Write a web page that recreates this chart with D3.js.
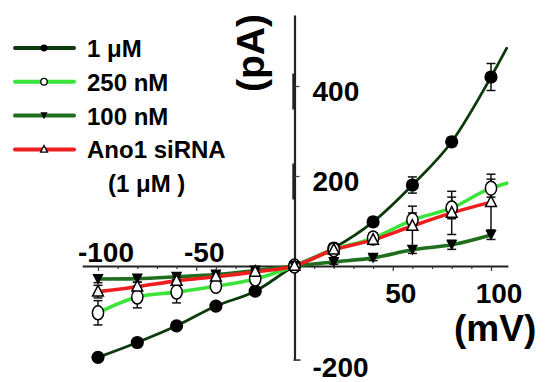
<!DOCTYPE html>
<html>
<head>
<meta charset="utf-8">
<script src="https://cdn.jsdelivr.net/npm/d3@7"></script>
<style>
  html, body { margin: 0; padding: 0; background: #fff; }
  svg { display: block; }
  text { font-family: "Liberation Sans", Arial, sans-serif; font-weight: bold; fill: #000; }
</style>
</head>
<body>
<svg id="chart" width="548" height="382"></svg>
<script>
// ---- data (voltage in mV, current in pA) ----
const voltages = [-100, -80, -60, -40, -20, 0, 20, 40, 60, 80, 100];

const series1uM   = [-203, -170, -133, -89, -56, 0, 40, 98, 180, 276, 420];
const err1uM      = [8, 6, 6, 6, 4, 0, 8, 10, 18, 10, 30];

const series250nM = [-104, -69, -58, -45, -29, 0, 36, 62, 102, 129, 173];
const err250nM    = [27, 24, 24, 10, 6, 0, 8, 12, 16, 24, 20];

const series100nM = [-29, -28, -24, -19, -10, 0, 9, 18, 36, 47, 69];
const err100nM    = [8, 8, 6, 6, 4, 0, 5, 6, 8, 10, 10];

const seriesAno1  = [-57, -46, -33, -24, -13, 0, 36, 58, 89, 118, 142];
const errAno1     = [14, 10, 8, 6, 4, 0, 6, 10, 44, 48, 62];

// fitted-line extension beyond the last point
const fitEndVoltage = 108;
const fitEnd1uM = 484;
const fitEnd250nM = 184;

const seriesNames = ["1 μM", "250 nM", "100 nM", "Ano1 siRNA"];
const legendExtra = "(1 μM )";

const xTickValues = [-100, -50, 50, 100];
const xTickLabels = ["-100", "-50", "50", "100"];
const yTickValues = [400, 200, -200];
const yTickLabels = ["400", "200", "-200"];

const xTitle = "(mV)";
const yTitle = "(pA)";

// ---- layout ----
const svg = d3.select("#chart");
const x = d3.scaleLinear().domain([-100, 100]).range([98, 491]);
const y = d3.scaleLinear().domain([-200, 400]).range([356, 86]);

const colors = {
  c1uM: "#0c3a0c",
  c250: "#3be43b",
  c100: "#1f6f1f",
  ano1: "#ee1e1e"
};

// ---- axes ----
const xAxisScale = x.copy().domain([-108, 108.6]).range([x(-108), x(108.6)]);
const xMinor = d3.range(-100, 101, 10);
const xAxis = d3.axisBottom(xAxisScale)
  .tickValues(xMinor)
  .tickSize(3)
  .tickSizeOuter(0)
  .tickFormat("");
const gx = svg.append("g").attr("transform", `translate(0,${y(0)})`).call(xAxis);
gx.select(".domain").attr("stroke", "#222").attr("stroke-width", 2.2);
gx.selectAll(".tick line")
  .attr("stroke", "#333").attr("stroke-width", 1.2)
  .attr("y2", d => (Math.abs(d) === 50 || Math.abs(d) === 100) ? 5 : 3);

const yAxisScale = y.copy().domain([-209, 558]).range([y(-209), y(558)]);
const yAxis = d3.axisRight(yAxisScale)
  .tickValues([400, 200])
  .tickSize(5)
  .tickSizeOuter(0)
  .tickFormat("");
const gy = svg.append("g").attr("transform", `translate(${x(0)},0)`).call(yAxis);
gy.select(".domain").attr("stroke", "#222").attr("stroke-width", 2.2);
gy.selectAll(".tick line").attr("stroke", "#444").attr("stroke-width", 1.2);
// slight thickening of axis around major ticks (as in reference)
gy.selectAll(".tick").append("line")
  .attr("x1", -1.3).attr("x2", -1.3).attr("y1", -13).attr("y2", 23)
  .attr("stroke", "#222").attr("stroke-width", 1.8);
// bottom end foot
svg.append("line")
  .attr("x1", x(0) - 1).attr("x2", x(0) + 6)
  .attr("y1", yAxisScale(-209)).attr("y2", yAxisScale(-209))
  .attr("stroke", "#333").attr("stroke-width", 1.6);

// tick labels
svg.append("g").selectAll("text").data(xTickValues).join("text")
  .attr("x", d => x(d) + 8)
  .attr("y", d => d < 0 ? y(0) - 4 : y(0) + 37)
  .attr("text-anchor", "middle")
  .attr("font-size", 28)
  .text((d, i) => xTickLabels[i]);

svg.append("g").selectAll("text").data(yTickValues).join("text")
  .attr("x", x(0) + 18)
  .attr("y", d => d > 0 ? y(d) + 15 : y(d) + 21)
  .attr("text-anchor", "start")
  .attr("font-size", 28)
  .text((d, i) => yTickLabels[i]);

// axis titles
svg.append("text")
  .attr("x", 454).attr("y", 341)
  .attr("font-size", 37)
  .text(xTitle);
svg.append("text")
  .attr("transform", "translate(264,53) rotate(-90)")
  .attr("text-anchor", "middle")
  .attr("font-size", 39)
  .text(yTitle);

// ---- lines ----
const line = d3.line().x(d => x(d[0])).y(d => y(d[1])).curve(d3.curveMonotoneX);
const pts = (vals) => voltages.map((v, i) => [v, vals[i]]);

const lineDefs = [
  { data: pts(series1uM).concat([[fitEndVoltage, fitEnd1uM]]), color: colors.c1uM, w: 2.8 },
  { data: pts(series250nM).concat([[fitEndVoltage, fitEnd250nM]]), color: colors.c250, w: 3.6 },
  { data: pts(series100nM), color: colors.c100, w: 3.6 },
  { data: pts(seriesAno1), color: colors.ano1, w: 3.6 }
];
svg.append("g").selectAll("path").data(lineDefs).join("path")
  .attr("d", d => line(d.data))
  .attr("fill", "none")
  .attr("stroke", d => d.color)
  .attr("stroke-width", d => d.w)
  .attr("stroke-linecap", "round");

// ---- error bars ----
const errDefs = [
  { vals: series1uM, errs: err1uM },
  { vals: series250nM, errs: err250nM },
  { vals: series100nM, errs: err100nM },
  { vals: seriesAno1, errs: errAno1 }
];
const eg = svg.append("g").attr("stroke", "#111").attr("stroke-width", 1.5);
errDefs.forEach(s => {
  voltages.forEach((v, i) => {
    const e = s.errs[i];
    if (!e) return;
    const cx = x(v), y1 = y(s.vals[i] + e), y2 = y(s.vals[i] - e);
    eg.append("line").attr("x1", cx).attr("x2", cx).attr("y1", y1).attr("y2", y2);
    eg.append("line").attr("x1", cx - 4.5).attr("x2", cx + 4.5).attr("y1", y1).attr("y2", y1);
    eg.append("line").attr("x1", cx - 4.5).attr("x2", cx + 4.5).attr("y1", y2).attr("y2", y2);
  });
});

// ---- markers ----
const triUp = (s) => `M0,${-1.15 * s}L${s},${0.8 * s}L${-s},${0.8 * s}Z`;
const triDown = (s) => `M0,${1.0 * s}L${s},${-0.9 * s}L${-s},${-0.9 * s}Z`;

function drawMarkers(g, kind, cx, cy, big) {
  if (kind === "filledCircle") {
    g.append("circle").attr("cx", cx).attr("cy", cy).attr("r", big ? 6.6 : 3.4).attr("fill", "#000");
  } else if (kind === "openCircle") {
    g.append("ellipse").attr("cx", cx).attr("cy", cy)
      .attr("rx", big ? 5.6 : 3.2).attr("ry", big ? 7 : 3.4)
      .attr("fill", "#fff").attr("stroke", "#000").attr("stroke-width", big ? 1.5 : 1.3);
  } else if (kind === "filledTriDown") {
    g.append("path").attr("transform", `translate(${cx},${cy})`).attr("d", triDown(big ? 5.6 : 3.6)).attr("fill", "#000");
  } else if (kind === "openTriUp") {
    g.append("path").attr("transform", `translate(${cx},${cy})`).attr("d", triUp(big ? 5.4 : 3.4))
      .attr("fill", "#fff").attr("stroke", "#000").attr("stroke-width", big ? 1.5 : 1.3);
  }
}

const markerDefs = [
  { vals: series1uM, kind: "filledCircle" },
  { vals: series250nM, kind: "openCircle" },
  { vals: series100nM, kind: "filledTriDown" },
  { vals: seriesAno1, kind: "openTriUp" }
];
const mg = svg.append("g");
markerDefs.forEach(s => {
  voltages.forEach((v, i) => drawMarkers(mg, s.kind, x(v), y(s.vals[i]), true));
});

// ---- legend ----
const legendColors = [colors.c1uM, colors.c250, colors.c100, colors.ano1];
const lg = svg.append("g");
seriesNames.forEach((name, i) => {
  const base = 57 + i * 33.8;
  const ly = base - 9;
  lg.append("line").attr("x1", 15).attr("x2", 74).attr("y1", ly).attr("y2", ly)
    .attr("stroke", legendColors[i]).attr("stroke-width", 4).attr("stroke-linecap", "round");
  drawMarkers(lg, markerDefs[i].kind, 44, ly, false);
  lg.append("text").attr("x", 87).attr("y", base).attr("font-size", 24).text(name);
});
lg.append("text").attr("x", 108).attr("y", 57 + 4 * 33.8 - 0.5).attr("font-size", 24).text(legendExtra);
</script>
</body>
</html>
